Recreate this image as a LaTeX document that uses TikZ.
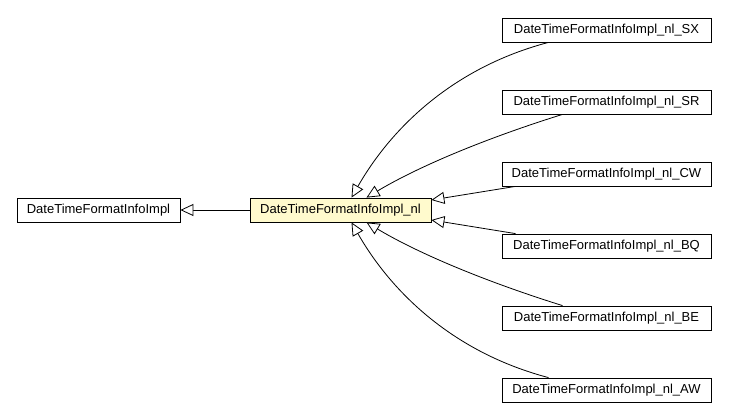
\documentclass[tikz,border=0pt]{standalone}
\usepackage{fontspec}
\setmainfont{Liberation Sans}
\usetikzlibrary{arrows.meta}

\begin{document}
\begin{tikzpicture}[x=1pt,y=-1pt,
                    cls/.style = {draw, shape=rectangle, line width=0.8pt,
                    minimum height=24pt, inner sep=0pt,
                    font=\fontsize{13}{15}\selectfont},
                    sub/.style = {cls, minimum width=209pt},
                    inherit/.style = {draw, line width=0.8pt,
                    -{Triangle[open, length=13pt, width=12pt, fill=white]}}]
  \useasboundingbox (0,0) rectangle (729,419);
  \node[cls, minimum width=163pt] (base) at (98.5,210) {DateTimeFormatInfoImpl};
  \node[cls, minimum width=181pt, fill={rgb,255:red,255;green,250;blue,205}] (nl) at (340.5,210) {DateTimeFormatInfoImpl\_nl};
  \node[sub] (sx) at (606.5,30) {DateTimeFormatInfoImpl\_nl\_SX};
  \node[sub] (sr) at (606.5,102) {DateTimeFormatInfoImpl\_nl\_SR};
  \node[sub] (cw) at (606.5,174) {DateTimeFormatInfoImpl\_nl\_CW};
  \node[sub] (bq) at (606.5,246) {DateTimeFormatInfoImpl\_nl\_BQ};
  \node[sub] (be) at (606.5,318) {DateTimeFormatInfoImpl\_nl\_BE};
  \node[sub] (aw) at (606.5,390) {DateTimeFormatInfoImpl\_nl\_AW};
  % generalisation arrows
  \draw[inherit] (nl) -- (base);
  \draw[inherit] ([xshift=-58pt]sx.south) .. controls +(-95,25) and +(40,-70) .. ([xshift=11pt]nl.north);
  \draw[inherit] ([xshift=-44pt]sr.south) .. controls +(-80,25) and +(50,-30) .. ([xshift=26pt]nl.north);
  \draw[inherit] ([xshift=-91pt]cw.south) -- ([yshift=10pt]nl.east);
  \draw[inherit] ([xshift=-91pt]bq.north) -- ([yshift=-10pt]nl.east);
  \draw[inherit] ([xshift=-44pt]be.north) .. controls +(-80,-25) and +(50,30) .. ([xshift=26pt]nl.south);
  \draw[inherit] ([xshift=-58pt]aw.north) .. controls +(-95,-25) and +(40,70) .. ([xshift=11pt]nl.south);
\end{tikzpicture}
\end{document}
